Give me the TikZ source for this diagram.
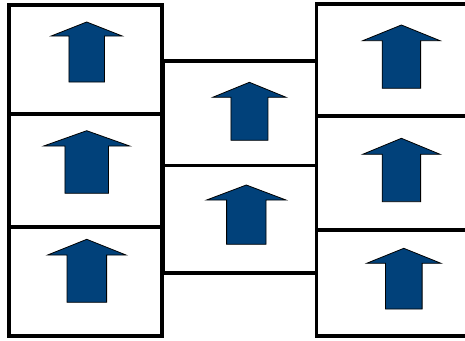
\documentclass[tikz,border=0pt]{standalone}
\usetikzlibrary{positioning}
\definecolor{arrowblue}{RGB}{1,65,122}
\begin{document}
\begin{tikzpicture}[x=1pt,y=-1pt,
  cell/.style={draw,outer sep=0pt,inner sep=0pt},
  leftcell/.style={cell,line width=4pt,minimum width=152.5pt},
  midcell/.style={cell,line width=3.2pt,minimum width=153.5pt},
  rightcell/.style={cell,line width=3.2pt,minimum width=156pt},
  uparrow/.style={fill=arrowblue,draw=black,line width=0.8pt,line join=miter}]
\useasboundingbox (0,0) rectangle (465,340);
% left column
\node[leftcell,minimum height=108.5pt,anchor=north west] (l1) at (9,5) {};
\node[leftcell,minimum height=113pt,below=0pt of l1] (l2) {};
\node[leftcell,minimum height=109pt,below=0pt of l2] (l3) {};
% middle column
\node[midcell,minimum height=104.5pt,anchor=north west] (m1) at (163,61) {};
\node[midcell,minimum height=107.5pt,below=0pt of m1] (m2) {};
% right column
\node[rightcell,minimum height=112pt,anchor=north west] (r1) at (316.5,4) {};
\node[rightcell,minimum height=114pt,below=0pt of r1] (r2) {};
\node[rightcell,minimum height=106pt,below=0pt of r2] (r3) {};
% arrows
\foreach \cx/\tip/\head/\bot/\wing/\shaft in {
  86.7/22/36/82/35.5/17.8, 86.7/130.7/146/193.3/43/21.8, 86.8/239.3/255/302.3/39.2/19.8,
  249.4/82.3/97.3/140.3/36.7/18.5, 246.3/185/200/244.3/39.7/19.7,
  401.4/25/40.7/88.3/38.7/19.2, 401.4/138.3/154.3/201.7/38.7/19.2, 403.8/248.3/263.3/309/37.2/18.3}
  \filldraw[uparrow] (\cx,\tip) -- (\cx+\wing,\head) -- (\cx+\shaft,\head) -- (\cx+\shaft,\bot)
    -- (\cx-\shaft,\bot) -- (\cx-\shaft,\head) -- (\cx-\wing,\head) -- cycle;
\end{tikzpicture}
\end{document}
